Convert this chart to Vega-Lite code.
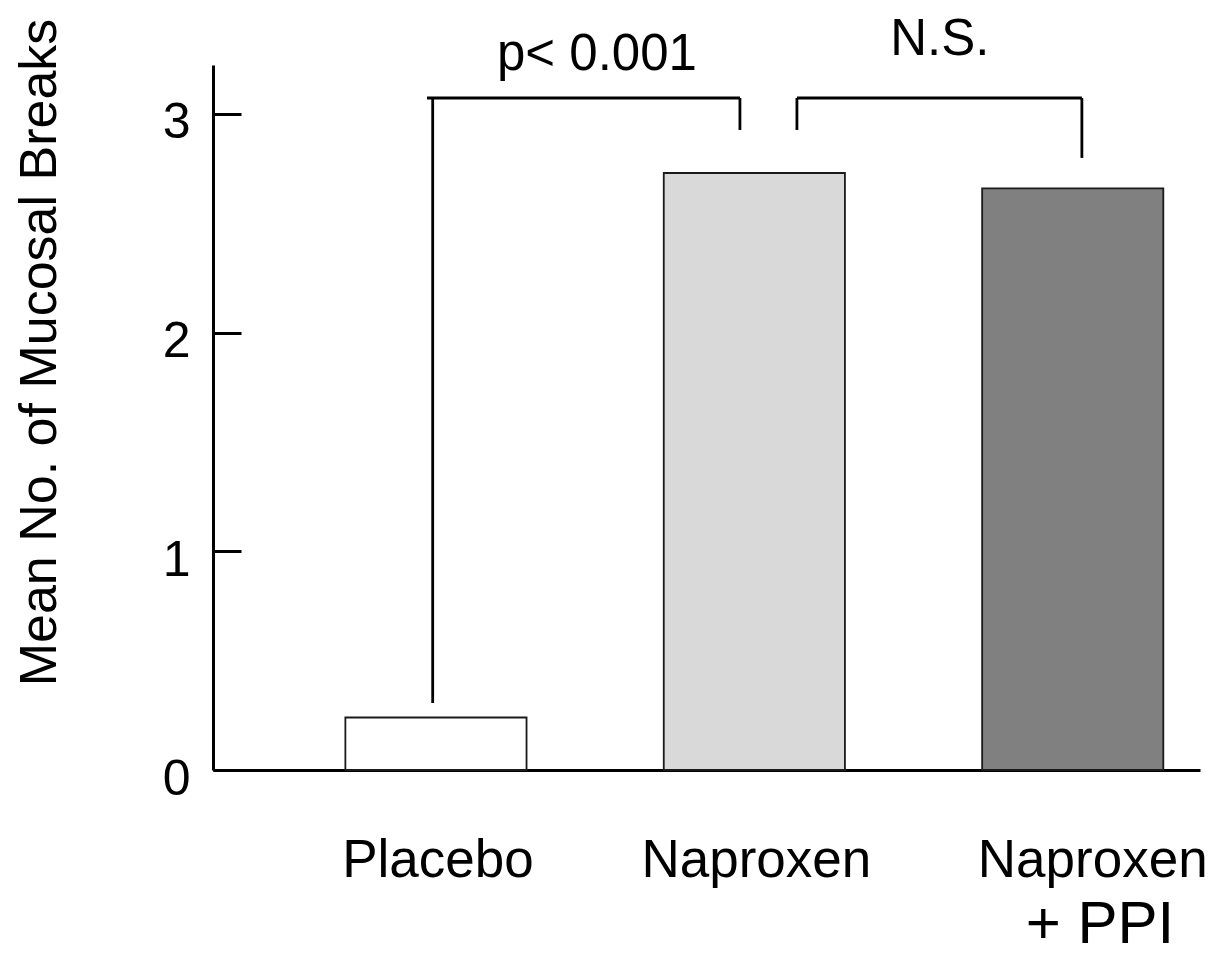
{
  "$schema": "https://vega.github.io/schema/vega-lite/v6.json",
  "autosize": {"type": "none"},
  "width": 987,
  "height": 705,
  "padding": {"left": 213, "top": 65, "right": 16, "bottom": 186},
  "background": "white",
  "config": {
    "view": {"stroke": null},
    "font": "Liberation Sans",
    "axis": {"grid": false, "domainColor": "black", "tickColor": "black", "labelColor": "black", "titleColor": "black", "labelLimit": 0}
  },
  "datasets": {
    "means": [
      {"group": "Placebo", "mean": 0.24},
      {"group": "Naproxen", "mean": 2.73},
      {"group": "Naproxen + PPI", "mean": 2.66}
    ],
    "brackets": [
      {"x": -0.01, "x2": -0.01, "y": 0.306, "y2": 3.073},
      {"x": -0.028, "x2": 0.955, "y": 3.073, "y2": 3.073},
      {"x": 0.955, "x2": 0.955, "y": 3.073, "y2": 2.927},
      {"x": 1.134, "x2": 1.134, "y": 2.927, "y2": 3.073},
      {"x": 1.134, "x2": 2.029, "y": 3.073, "y2": 3.073},
      {"x": 2.029, "x2": 2.029, "y": 3.073, "y2": 2.799}
    ],
    "notes": [
      {"x": 0.506, "y": 3.201, "label": "p< 0.001", "size": 51},
      {"x": 1.583, "y": 3.27, "label": "N.S.", "size": 51},
      {"x": 2.086, "y": -0.791, "label": "+ PPI", "size": 60}
    ]
  },
  "layer": [
    {
      "data": {"name": "means"},
      "mark": {"type": "bar", "stroke": "#1a1a1a", "strokeWidth": 1.8},
      "encoding": {
        "x": {
          "field": "group",
          "type": "nominal",
          "sort": null,
          "scale": {"paddingInner": 0.431, "paddingOuter": 0.2655, "align": 0.783},
          "axis": {
            "title": null,
            "ticks": false,
            "domainWidth": 3,
            "labelAngle": 0,
            "labelFontSize": 53,
            "labelPadding": 64,
            "labelBaseline": "top",
            "labelExpr": "datum.value == 'Naproxen + PPI' ? 'Naproxen' : datum.label",
            "labelOffset": {"condition": {"test": "datum.value == 'Naproxen + PPI'", "value": 20}, "value": 2}
          }
        },
        "y": {
          "field": "mean",
          "type": "quantitative",
          "scale": {"domain": [0, 3.224], "nice": false},
          "axis": {
            "values": [0, 1, 2, 3],
            "tickSize": -28,
            "tickWidth": 3,
            "domainWidth": 3,
            "labelFontSize": 50,
            "labelPadding": 51,
            "labelOffset": 9,
            "title": "Mean No. of Mucosal Breaks",
            "titleFontSize": 52,
            "titleFontWeight": "normal",
            "titleAngle": -90,
            "titleX": -158,
            "titleY": 287,
            "titleAlign": "center",
            "titleBaseline": "alphabetic"
          }
        },
        "color": {
          "field": "group",
          "type": "nominal",
          "scale": {"domain": ["Placebo", "Naproxen", "Naproxen + PPI"], "range": ["#ffffff", "#d9d9d9", "#808080"]},
          "legend": null
        }
      }
    },
    {
      "layer": [
        {
          "data": {"name": "brackets"},
          "mark": {"type": "rule", "color": "black", "strokeWidth": 2.8},
          "encoding": {
            "x": {"field": "x", "type": "quantitative", "scale": {"domain": [-0.7, 2.4], "nice": false, "zero": false}, "axis": null},
            "x2": {"field": "x2"},
            "y": {"field": "y", "type": "quantitative", "axis": null},
            "y2": {"field": "y2"}
          }
        },
        {
          "data": {"name": "notes"},
          "mark": {"type": "text", "align": "center", "baseline": "alphabetic", "color": "black"},
          "encoding": {
            "x": {"field": "x", "type": "quantitative", "axis": null},
            "y": {"field": "y", "type": "quantitative", "axis": null},
            "text": {"field": "label"},
            "size": {"field": "size", "type": "quantitative", "scale": null, "legend": null}
          }
        }
      ],
      "resolve": {"axis": {"y": "independent"}}
    }
  ],
  "resolve": {"scale": {"x": "independent", "color": "independent"}, "axis": {"x": "independent", "y": "independent"}}
}
